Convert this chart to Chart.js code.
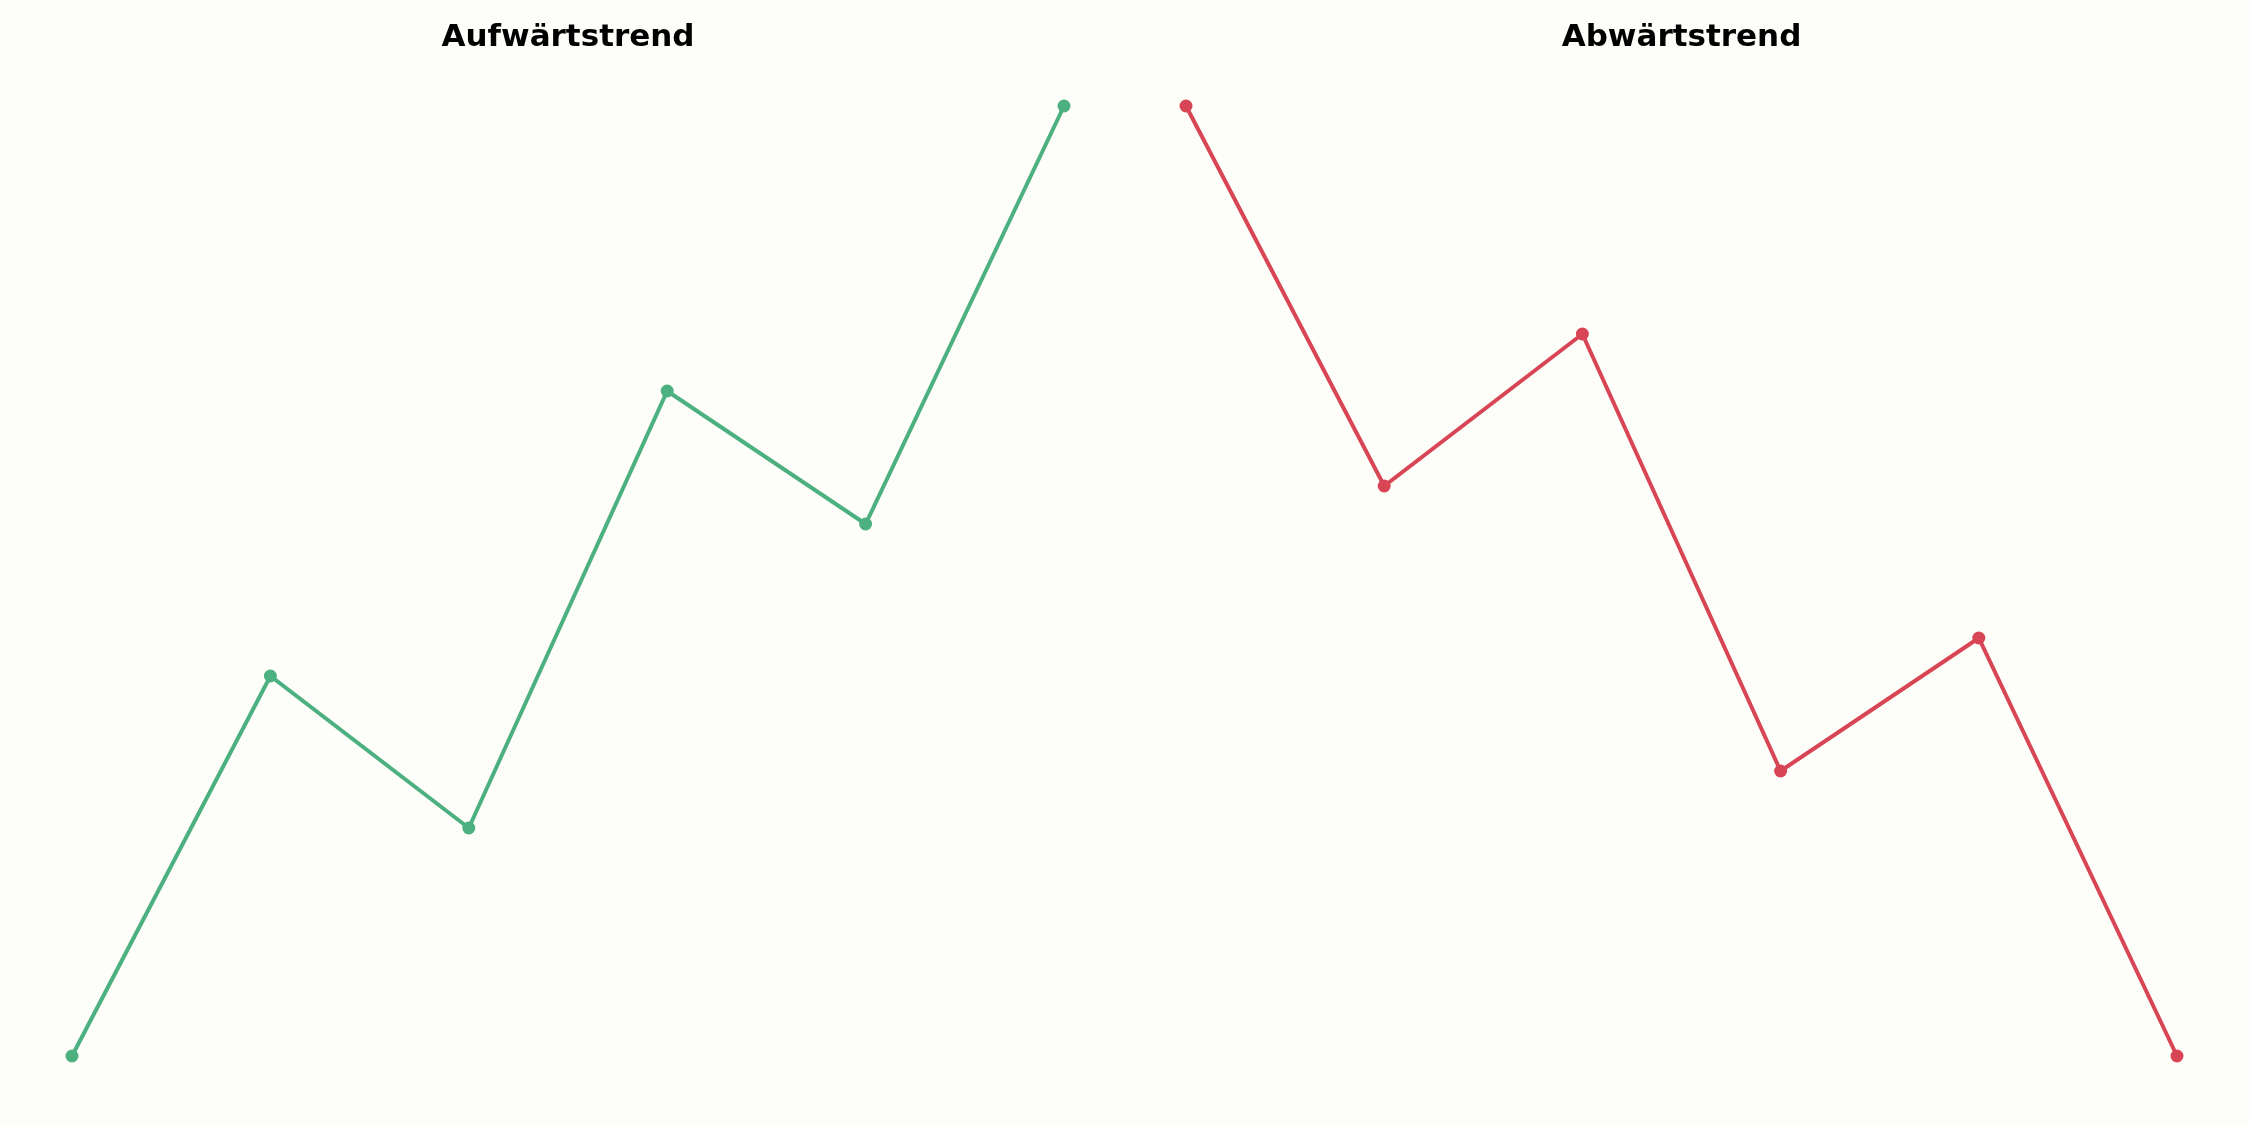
<!DOCTYPE html>
<html>
<head>
<meta charset="utf-8">
<script src="https://cdn.jsdelivr.net/npm/chart.js@4.4.0/dist/chart.umd.min.js"></script>
<style>
  html, body { margin: 0; padding: 0; background: #fdfdf9; }
  #wrap { position: relative; width: 2250px; height: 1125px; background: #fdfdf9; }
  canvas { position: absolute; top: 0; }
</style>
</head>
<body>
<div id="wrap">
  <canvas id="c1" width="1125" height="1125" style="left:0px"></canvas>
  <canvas id="c2" width="1125" height="1125" style="left:1125px"></canvas>
</div>
<script>
const categories = ["1", "2", "3", "4", "5", "6"];
const upValues = [0, 40, 24, 70, 56, 100];
const downValues = [100, 60, 76, 30, 44, 0];
const upTitle = "Aufwärtstrend";
const downTitle = "Abwärtstrend";

function makeChart(id, title, values, color, padLeft, padRight) {
  return new Chart(document.getElementById(id), {
    type: 'line',
    data: {
      labels: categories,
      datasets: [{
        data: values,
        borderColor: color,
        backgroundColor: color,
        borderWidth: 4,
        pointRadius: 6.5,
        pointHoverRadius: 6.5,
        pointBorderWidth: 0,
        tension: 0,
        clip: false
      }]
    },
    options: {
      responsive: false,
      animation: false,
      devicePixelRatio: 1,
      layout: { padding: { left: padLeft, right: padRight, top: 0, bottom: 69 } },
      plugins: {
        legend: { display: false },
        tooltip: { enabled: false },
        title: {
          display: true,
          text: title,
          color: '#000000',
          font: { family: 'DejaVu Sans', size: 31, weight: 'bold' },
          padding: { top: 19, bottom: 49.8 }
        }
      },
      scales: {
        x: { display: false, offset: false },
        y: { display: false, min: 0, max: 100 }
      }
    }
  });
}

makeChart('c1', upTitle, upValues, 'rgb(76,176,128)', 72, 61);
makeChart('c2', downTitle, downValues, 'rgb(216,70,86)', 61, 73);
</script>
</body>
</html>
